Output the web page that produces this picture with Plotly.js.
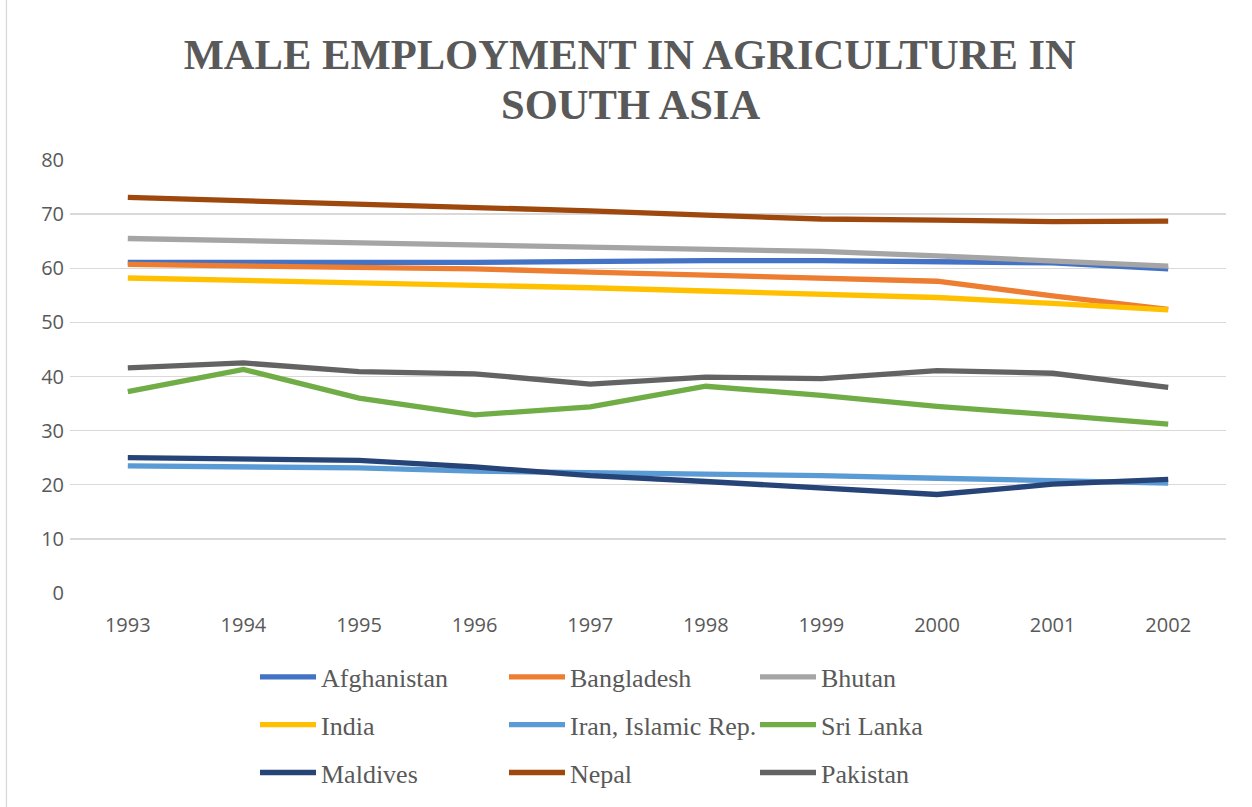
<!DOCTYPE html>
<html>
<head>
<meta charset="utf-8">
<script src="https://cdn.plot.ly/plotly-3.0.1.min.js"></script>
<style>html,body{margin:0;padding:0;background:#fff;}#chart{width:1252px;height:807px;}</style>
</head>
<body>
<div id="chart"></div>
<script>
const years = ["1993","1994","1995","1996","1997","1998","1999","2000","2001","2002"];
const afghanistan = [61.1, 61.2, 61.1, 61.1, 61.3, 61.4, 61.4, 61.3, 61.0, 59.9];
const bangladesh  = [60.7, 60.5, 60.2, 59.9, 59.3, 58.7, 58.2, 57.6, 54.9, 52.4];
const bhutan      = [65.5, 65.1, 64.8, 64.4, 64.0, 63.5, 63.1, 62.3, 61.3, 60.4];
const india       = [58.2, 57.8, 57.4, 56.9, 56.4, 55.8, 55.2, 54.6, 53.5, 52.3];
const iran        = [23.5, 23.4, 23.1, 22.5, 22.3, 21.9, 21.7, 21.2, 20.8, 20.3];
const sriLanka    = [37.2, 41.3, 36.0, 32.9, 34.4, 38.2, 36.5, 34.5, 32.9, 31.2];
const maldives    = [25.0, 24.8, 24.5, 23.3, 21.7, 20.6, 19.5, 18.2, 20.1, 21.0];
const nepal       = [73.1, 72.5, 71.9, 71.3, 70.6, 69.8, 69.1, 68.9, 68.6, 68.7];
const pakistan    = [41.6, 42.5, 40.9, 40.5, 38.6, 39.9, 39.6, 41.1, 40.6, 38.0];

const titleLine1 = "MALE EMPLOYMENT IN AGRICULTURE IN";
const titleLine2 = "SOUTH ASIA";

const seriesNames = ["Afghanistan","Bangladesh","Bhutan","India","Iran, Islamic Rep.","Sri Lanka","Maldives","Nepal","Pakistan"];
const seriesValues = [afghanistan, bangladesh, bhutan, india, iran, sriLanka, maldives, nepal, pakistan];
const seriesColors = ["#4472C4","#ED7D31","#A5A5A5","#FFC000","#5B9BD5","#70AD47","#264478","#9E480E","#636363"];
const legendIds = ["legend","legend2","legend3","legend","legend2","legend3","legend","legend2","legend3"];

const traces = seriesNames.map((name, i) => ({
  type: "scatter",
  mode: "lines",
  name: name,
  x: years,
  y: seriesValues[i],
  line: {color: seriesColors[i], width: 5.3},
  legend: legendIds[i],
  legendgroup: "g" + i
}));

const titleFont = {family: "Liberation Serif, serif", size: 42.6, color: "#595959", weight: "bold"};

const legendBase = {
  orientation: "v",
  xref: "container",
  yref: "container",
  xanchor: "left",
  yanchor: "top",
  y: 1 - 653.5/807,
  bgcolor: "rgba(0,0,0,0)",
  borderwidth: 0,
  tracegroupgap: 11,
  itemwidth: 56,
  font: {family: "Liberation Serif, serif", size: 26, color: "#595959"}
};

const layout = {
  width: 1252,
  height: 807,
  paper_bgcolor: "#ffffff",
  plot_bgcolor: "#ffffff",
  margin: {l: 70, r: 26, t: 160, b: 214, autoexpand: false},
  title: {
    text: titleLine1,
    font: titleFont,
    xref: "container",
    yref: "container",
    x: 0.503,
    xanchor: "center",
    y: 1 - 39/807,
    yanchor: "top"
  },
  annotations: [{
    text: titleLine2,
    font: titleFont,
    xref: "paper", yref: "paper",
    x: (630 - 70)/1155, xanchor: "center",
    y: (593 - 104)/433, yanchor: "middle",
    showarrow: false
  }],
  xaxis: {
    type: "category",
    range: [-0.5, 9.5],
    showgrid: false,
    zeroline: false,
    showline: false,
    ticks: "",
    ticklabelstandoff: 18,
    tickfont: {family: "Open Sans, sans-serif", size: 20, color: "#595959"},
    fixedrange: true
  },
  yaxis: {
    range: [0, 80],
    tickvals: [0,10,20,30,40,50,60,70,80],
    showgrid: true,
    gridcolor: "#d9d9d9",
    gridwidth: 1.3,
    zeroline: false,
    showline: false,
    ticks: "",
    ticklabelstandoff: 5,
    tickfont: {family: "Open Sans, sans-serif", size: 20, color: "#595959"},
    fixedrange: true
  },
  showlegend: true,
  legend: Object.assign({}, legendBase, {x: 255/1252}),
  legend2: Object.assign({}, legendBase, {x: 504/1252}),
  legend3: Object.assign({}, legendBase, {x: 755/1252}),
  shapes: [{
    type: "line", xref: "paper", yref: "paper",
    x0: (6.5-70)/1155, x1: (6.5-70)/1155, y0: -214/433, y1: 1 + 160/433,
    line: {color: "#d9d9d9", width: 1.3}
  }]
};

Plotly.newPlot("chart", traces, layout, {displayModeBar: false, staticPlot: true});
</script>
</body>
</html>
